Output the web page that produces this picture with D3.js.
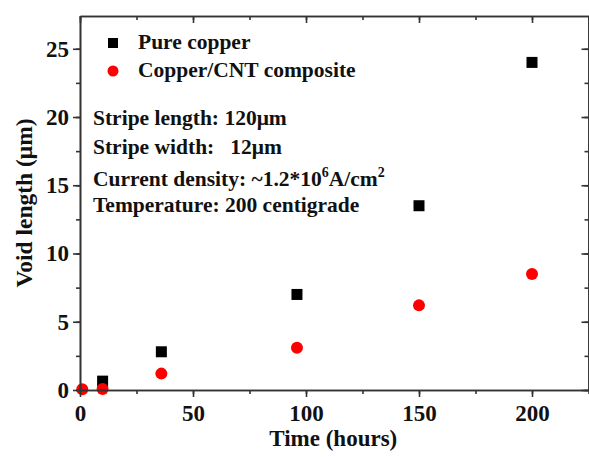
<!DOCTYPE html>
<html>
<head>
<meta charset="utf-8">
<script src="https://cdn.jsdelivr.net/npm/d3@7"></script>
<style>
  html, body { margin: 0; padding: 0; background: #fff; }
  svg text { font-family: "Liberation Serif", "Times New Roman", serif; font-weight: bold; fill: #111; }
</style>
</head>
<body>
<div id="chart"></div>
<script>
// Data
const copperHours = [10, 36, 96, 150, 200];
const copperVoid = [0.65, 2.8, 7.0, 13.5, 24.0];
const cntHours = [1, 10, 36, 96, 150, 200];
const cntVoid = [0.05, 0.08, 1.2, 3.1, 6.2, 8.5];
const xTicks = [0, 50, 100, 150, 200];
const yTicks = [0, 5, 10, 15, 20, 25];

const width = 589, height = 457;
const margin = { top: 16, right: 0.5, bottom: 67, left: 80 };

const svg = d3.select("#chart").append("svg")
  .attr("width", width)
  .attr("height", height);

const x = d3.scaleLinear().domain([0, 225]).range([margin.left, width - margin.right]);
const y = d3.scaleLinear().domain([0, 27.4]).range([height - margin.bottom, margin.top]);

// markers
svg.selectAll("rect.copper")
  .data(copperHours)
  .enter()
  .append("rect")
  .attr("class", "copper")
  .attr("x", d => x(d) - 5.5)
  .attr("y", (d, i) => y(copperVoid[i]) - 5.5)
  .attr("width", 11)
  .attr("height", 11)
  .attr("fill", "#000");

svg.selectAll("circle.cnt")
  .data(cntHours)
  .enter()
  .append("circle")
  .attr("class", "cnt")
  .attr("cx", d => x(d))
  .attr("cy", (d, i) => y(cntVoid[i]))
  .attr("r", 6)
  .attr("fill", "#ff0000");

// axes (Origin style: outward ticks on bottom/left, mirrored on top/right)
const minorX = d3.range(0, 226, 25);
const minorY = d3.range(0, 27.5, 2.5);

function styleAxis(g) {
  g.select(".domain").attr("stroke", "#333").attr("stroke-width", 1.6);
  g.selectAll(".tick line").attr("stroke", "#333").attr("stroke-width", 1.6);
  g.selectAll(".tick text").style("font-size", "23px").attr("fill", "#111");
}

// minor ticks first
svg.append("g")
  .attr("transform", `translate(0,${y(0)})`)
  .call(d3.axisBottom(x).tickValues(minorX).tickSize(4).tickFormat("").tickSizeOuter(0))
  .call(styleAxis);
svg.append("g")
  .attr("transform", `translate(0,${margin.top})`)
  .call(d3.axisBottom(x).tickValues(minorX).tickSize(4).tickFormat("").tickSizeOuter(0))
  .call(styleAxis);
svg.append("g")
  .attr("transform", `translate(${margin.left},0)`)
  .call(d3.axisLeft(y).tickValues(minorY).tickSize(4).tickFormat("").tickSizeOuter(0))
  .call(styleAxis);
svg.append("g")
  .attr("transform", `translate(${width - margin.right},0)`)
  .call(d3.axisLeft(y).tickValues(minorY).tickSize(4).tickFormat("").tickSizeOuter(0))
  .call(styleAxis);

// major ticks
svg.append("g")
  .attr("transform", `translate(0,${y(0)})`)
  .call(d3.axisBottom(x).tickValues(xTicks).tickSize(7).tickPadding(8).tickSizeOuter(0))
  .call(styleAxis);
svg.append("g")
  .attr("transform", `translate(0,${margin.top})`)
  .call(d3.axisBottom(x).tickValues(xTicks).tickSize(7).tickFormat("").tickSizeOuter(0))
  .call(styleAxis);
svg.append("g")
  .attr("transform", `translate(${margin.left},0)`)
  .call(d3.axisLeft(y).tickValues(yTicks).tickSize(7).tickPadding(4).tickSizeOuter(0))
  .call(styleAxis);
svg.append("g")
  .attr("transform", `translate(${width - margin.right},0)`)
  .call(d3.axisLeft(y).tickValues(yTicks).tickSize(7).tickFormat("").tickSizeOuter(0))
  .call(styleAxis);

// axis titles
svg.append("text")
  .attr("x", (margin.left + width - margin.right) / 2 - 1)
  .attr("y", 446)
  .attr("text-anchor", "middle")
  .style("font-size", "23px")
  .text("Time (hours)");

svg.append("text")
  .attr("transform", `translate(32,${(margin.top + height - margin.bottom) / 2}) rotate(-90)`)
  .attr("text-anchor", "middle")
  .style("font-size", "23.5px")
  .text("Void length (\u03bcm)");

// legend
svg.append("rect")
  .attr("x", 113 - 5)
  .attr("y", 43 - 5)
  .attr("width", 10)
  .attr("height", 10)
  .attr("fill", "#000");
svg.append("text")
  .attr("x", 138)
  .attr("y", 49)
  .style("font-size", "21.5px")
  .text("Pure copper");

svg.append("circle")
  .attr("cx", 113)
  .attr("cy", 71)
  .attr("r", 5.5)
  .attr("fill", "#ff0000");
svg.append("text")
  .attr("x", 138)
  .attr("y", 77)
  .style("font-size", "21.5px")
  .text("Copper/CNT composite");

// conditions
const info = svg.append("g").style("font-size", "21.5px");
info.append("text").attr("x", 93).attr("y", 125).text("Stripe length: 120\u03bcm");
info.append("text").attr("x", 93).attr("y", 154)
  .attr("xml:space", "preserve").style("white-space", "pre")
  .text("Stripe width:   12\u03bcm");
const cd = info.append("text").attr("x", 93).attr("y", 186);
cd.append("tspan").text("Current density: ~1.2*10");
cd.append("tspan").attr("dy", -9).style("font-size", "14px").text("6");
cd.append("tspan").attr("dy", 9).text("A/cm");
cd.append("tspan").attr("dy", -9).style("font-size", "14px").text("2");
info.append("text").attr("x", 93).attr("y", 212).text("Temperature: 200 centigrade");
</script>
</body>
</html>
